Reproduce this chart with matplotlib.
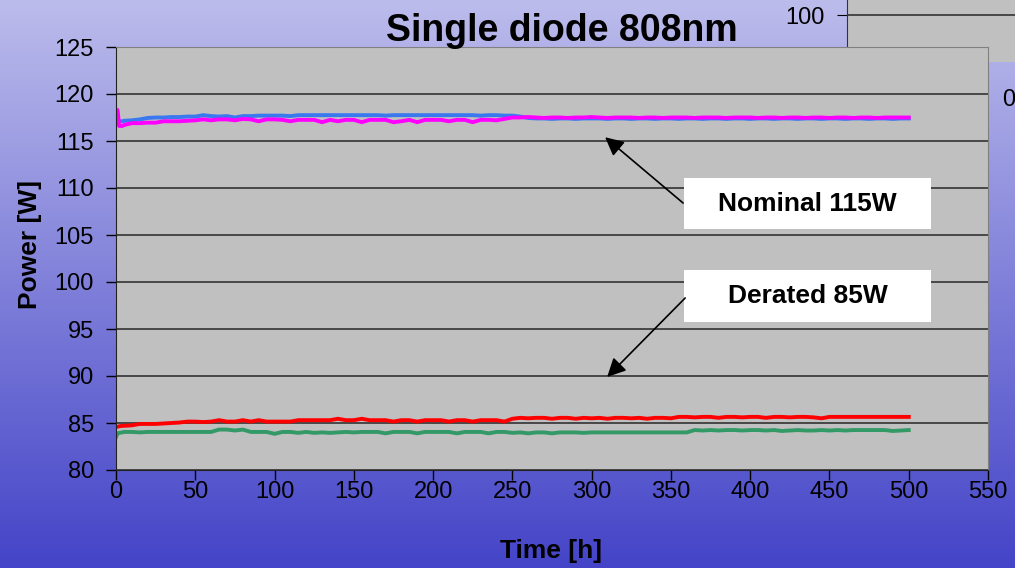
import numpy as np
import matplotlib
matplotlib.use("Agg")
import matplotlib.pyplot as plt
from matplotlib.patches import Rectangle

plt.rcParams['font.family'] = ['Liberation Sans', 'DejaVu Sans']

# Datos
horas = [0, 1, 2, 4] + list(range(5, 501, 5))

nominal_magenta = [118.2, 118.3, 116.6, 116.6,
    116.7, 116.9, 116.9, 116.95, 116.95, 117.1, 117.1, 117.1, 117.15, 117.2,
    117.3, 117.2, 117.3, 117.3, 117.2, 117.35, 117.3, 117.1, 117.3, 117.3,
    117.25, 117.1, 117.25, 117.25, 117.25, 117.0, 117.25, 117.1, 117.25, 117.25,
    117.0, 117.25, 117.25, 117.25, 117.0, 117.1, 117.25, 117.0, 117.25, 117.25,
    117.25, 117.1, 117.25, 117.25, 117.0, 117.25, 117.25, 117.2, 117.35, 117.5,
    117.5, 117.55, 117.5, 117.45, 117.5, 117.5, 117.45, 117.5, 117.5, 117.55,
    117.5, 117.45, 117.5, 117.5, 117.5, 117.45, 117.5, 117.5, 117.45, 117.5,
    117.5, 117.5, 117.45, 117.5, 117.5, 117.5, 117.45, 117.5, 117.5, 117.5,
    117.45, 117.5, 117.5, 117.45, 117.5, 117.5, 117.45, 117.5, 117.5, 117.45,
    117.5, 117.5, 117.45, 117.5, 117.5, 117.45, 117.5, 117.5, 117.5, 117.5]

nominal_azul = [116.7, 116.9, 117.1, 117.1,
    117.15, 117.2, 117.3, 117.45, 117.5, 117.5, 117.55, 117.55, 117.6, 117.6,
    117.75, 117.65, 117.6, 117.65, 117.5, 117.65, 117.65, 117.7, 117.7, 117.7,
    117.7, 117.65, 117.75, 117.75, 117.75, 117.75, 117.75, 117.75, 117.75, 117.75,
    117.75, 117.75, 117.75, 117.7, 117.75, 117.75, 117.75, 117.75, 117.75, 117.75,
    117.75, 117.75, 117.75, 117.75, 117.75, 117.7, 117.75, 117.75, 117.7, 117.7,
    117.6, 117.45, 117.4, 117.4, 117.35, 117.4, 117.4, 117.35, 117.4, 117.4,
    117.4, 117.35, 117.4, 117.4, 117.35, 117.4, 117.4, 117.35, 117.4, 117.4,
    117.35, 117.4, 117.4, 117.35, 117.4, 117.4, 117.35, 117.4, 117.4, 117.35,
    117.4, 117.4, 117.35, 117.4, 117.4, 117.35, 117.4, 117.4, 117.35, 117.4,
    117.4, 117.35, 117.4, 117.4, 117.35, 117.4, 117.4, 117.35, 117.4, 117.4]

derated_rojo = [84.6, 84.6, 84.65, 84.7,
    84.7, 84.75, 84.9, 84.9, 84.9, 84.95, 85.0, 85.05, 85.15, 85.15,
    85.1, 85.15, 85.3, 85.15, 85.15, 85.3, 85.15, 85.3, 85.15, 85.15,
    85.15, 85.15, 85.3, 85.3, 85.3, 85.3, 85.3, 85.45, 85.3, 85.3,
    85.45, 85.3, 85.3, 85.3, 85.15, 85.3, 85.3, 85.15, 85.3, 85.3,
    85.3, 85.15, 85.3, 85.3, 85.15, 85.3, 85.3, 85.3, 85.15, 85.45,
    85.55, 85.5, 85.55, 85.55, 85.45, 85.55, 85.55, 85.45, 85.55, 85.5,
    85.55, 85.45, 85.55, 85.55, 85.5, 85.55, 85.45, 85.55, 85.55, 85.5,
    85.65, 85.65, 85.6, 85.65, 85.65, 85.55, 85.65, 85.65, 85.6, 85.65,
    85.65, 85.55, 85.65, 85.65, 85.6, 85.65, 85.65, 85.6, 85.5, 85.65,
    85.65, 85.65, 85.65, 85.65, 85.65, 85.65, 85.65, 85.65, 85.65, 85.65]

derated_verde = [83.5, 83.9, 83.95, 84.0,
    84.05, 84.05, 84.0, 84.05, 84.05, 84.05, 84.05, 84.05, 84.05, 84.05,
    84.05, 84.05, 84.3, 84.3, 84.2, 84.3, 84.05, 84.05, 84.05, 83.85,
    84.05, 84.05, 83.95, 84.05, 83.95, 84.0, 83.95, 84.0, 84.05, 84.0,
    84.05, 84.05, 84.05, 83.9, 84.05, 84.05, 84.05, 83.9, 84.05, 84.05,
    84.05, 84.05, 83.9, 84.05, 84.05, 84.05, 83.9, 84.05, 84.05, 83.95,
    84.0, 83.9, 84.0, 84.0, 83.9, 84.0, 84.0, 84.0, 83.95, 84.0,
    84.0, 84.0, 84.0, 84.0, 84.0, 84.0, 84.0, 84.0, 84.0, 84.0,
    84.0, 84.0, 84.25, 84.2, 84.25, 84.2, 84.25, 84.25, 84.2, 84.25,
    84.25, 84.2, 84.25, 84.15, 84.2, 84.25, 84.2, 84.2, 84.25, 84.2,
    84.25, 84.2, 84.25, 84.25, 84.25, 84.25, 84.25, 84.15, 84.2, 84.25]

W, H = 1015, 568
fig = plt.figure(figsize=(W / 100, H / 100), dpi=100)
fig.patch.set_alpha(0)

# Fondo degradado
fondo = fig.add_axes([0, 0, 1, 1], zorder=0)
arriba = np.array([188, 188, 236]) / 255
abajo = np.array([68, 68, 200]) / 255
f = np.linspace(0, 1, H)[:, None, None]
grad = arriba * (1 - f) + abajo * f
fondo.imshow(np.repeat(grad, 2, axis=1), aspect='auto', extent=[0, 1, 0, 1])
fondo.axis('off')

# Trozo de otro grafico (arriba a la derecha)
otro = fig.add_axes([847 / W, 1 - 62 / H, (W - 847) / W, 62 / H], zorder=1)
otro.set_facecolor('#C0C0C0')
otro.set_xlim(0, 1)
otro.set_ylim(0, 62)
otro.set_xticks([])
otro.set_yticks([47])
otro.set_yticklabels(['100'], fontsize=17)
otro.tick_params(axis='y', length=7, pad=9)
otro.grid(axis='y', color='#333333', lw=1.2)
for s in ['top', 'right', 'bottom']:
    otro.spines[s].set_visible(False)
otro.spines['left'].set_color('#333333')
fig.text(1002 / W, 1 - 100 / H, '0', fontsize=17, ha='left', va='center')

# Grafico principal
ax = fig.add_axes([116 / W, 1 - 470 / H, (988 - 116) / W, (470 - 47) / H], zorder=2)
ax.set_facecolor('#C0C0C0')
ax.plot(horas, nominal_azul, color='#3A78F0', lw=2.8)
ax.plot(horas, nominal_magenta, color='#FF00FF', lw=2.8)
ax.plot(horas, derated_rojo, color='#FF0000', lw=2.8)
ax.plot(horas, derated_verde, color='#339966', lw=2.8)

ax.set_xlim(0, 550)
ax.set_ylim(80, 125)
ax.set_xticks(range(0, 551, 50))
ax.set_yticks(range(80, 126, 5))
ax.tick_params(labelsize=17, length=7, width=1, direction='out')
ax.tick_params(axis='y', pad=9)
ax.tick_params(axis='x', pad=1)
ax.grid(axis='y', color='#333333', lw=1.2)
ax.set_axisbelow(True)
ax.spines['top'].set_color('#808080')
ax.spines['right'].set_color('#808080')
ax.spines['left'].set_color('#222222')
ax.spines['bottom'].set_color('#222222')

# Cajas de texto con flechas
cajas = [('Nominal 115W', 105.64, 111.06, (308.5, 115.4), (357.7, 108.4)),
         ('Derated 85W', 95.74, 101.28, (309.8, 89.9), (359.0, 98.3))]
for texto, y0, y1, punta, origen in cajas:
    ax.add_patch(Rectangle((358.4, y0), 514.2 - 358.4, y1 - y0,
                           facecolor='white', edgecolor='none', zorder=4))
    ax.text((358.4 + 514.2) / 2, (y0 + y1) / 2, texto, fontsize=19,
            fontweight='bold', ha='center', va='center', zorder=5)
    ax.annotate('', xy=punta, xytext=origen, zorder=5,
                arrowprops=dict(arrowstyle='-|>', color='black', lw=1.2,
                                mutation_scale=28, shrinkA=0, shrinkB=0))

fig.text(562 / W, 1 - 41 / H, 'Single diode 808nm', fontsize=27,
         fontweight='bold', ha='center', va='baseline')
fig.text(30 / W, 1 - 245 / H, 'Power [W]', fontsize=19, fontweight='bold',
         rotation=90, ha='center', va='center')
fig.text(551 / W, 1 - 551 / H, 'Time [h]', fontsize=19, fontweight='bold',
         ha='center', va='center')

fig.savefig('out.png', dpi=100)
